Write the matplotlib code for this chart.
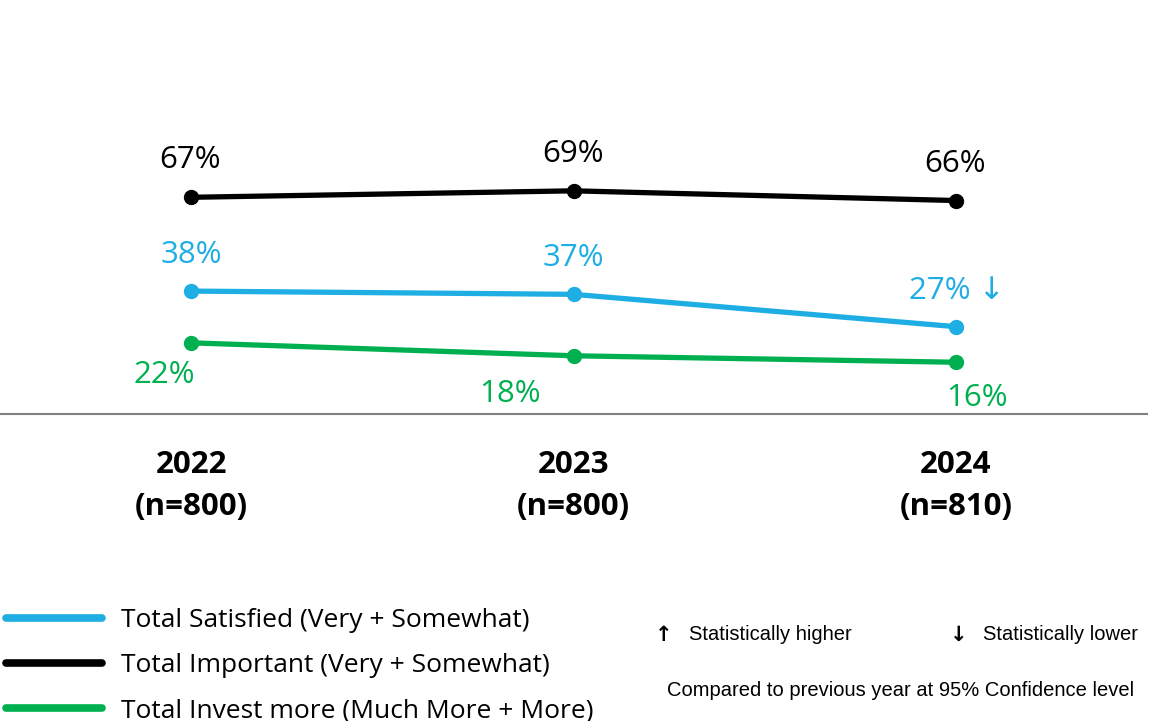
import matplotlib
matplotlib.use("Agg")
import matplotlib.pyplot as plt
from matplotlib.lines import Line2D

plt.rcParams["font.family"] = ["Open Sans", "DejaVu Sans"]

years = ["2022\n(n=800)", "2023\n(n=800)", "2024\n(n=810)"]
satisfied = [38, 37, 27]
important = [67, 69, 66]
invest = [22, 18, 16]
sat_flags = ["", "", " \u2193"]

BLUE = "#1eaee4"
BLACK = "#000000"
GREEN = "#00b050"

fig = plt.figure(figsize=(11.7, 7.21), dpi=100)
ax = fig.add_axes([0.0, 1 - 414 / 721, 1147 / 1170, 414 / 721])
x = range(len(years))

for vals, col in [(important, BLACK), (satisfied, BLUE), (invest, GREEN)]:
    ax.plot(x, vals, color=col, lw=3.8, marker="o", ms=10, solid_capstyle="round")

ax.set_xlim(-0.5, 2.5)
ax.set_ylim(0, 128)
for s in ["top", "left", "right"]:
    ax.spines[s].set_visible(False)
ax.spines["bottom"].set_color("#808080")
ax.spines["bottom"].set_linewidth(1.5)
ax.set_yticks([])
ax.set_xticks(list(x))
ax.set_xticklabels(years, fontsize=22.5, fontweight="bold", linespacing=1.5)
ax.tick_params(axis="x", length=0, pad=26)

# value labels
for i, v in enumerate(important):
    ax.annotate(f"{v}%", (i, v), xytext=(-1, 37), textcoords="offset pixels",
                ha="center", va="center", fontsize=22.5, color=BLACK)
sat_dx = [0, 0, 1]
for i, v in enumerate(satisfied):
    ax.annotate(f"{v}%{sat_flags[i]}", (i, v), xytext=(sat_dx[i], 36),
                textcoords="offset pixels", ha="center", va="center",
                fontsize=22.5, color=BLUE)
inv_dx = [-27, -64, 21]
inv_dy = [-32, -38, -36]
for i, v in enumerate(invest):
    ax.annotate(f"{v}%", (i, v), xytext=(inv_dx[i], inv_dy[i]), textcoords="offset pixels",
                ha="center", va="center", fontsize=22.5, color=GREEN)

# legend
handles = [Line2D([], [], color=c, lw=5.5, solid_capstyle="round")
           for c in (BLUE, BLACK, GREEN)]
labels = ["Total Satisfied (Very + Somewhat)",
          "Total Important (Very + Somewhat)",
          "Total Invest more (Much More + More)"]
fig.legend(handles, labels, loc="upper left", bbox_to_anchor=(6 / 1170, 1 - 608 / 721),
           frameon=False, fontsize=19, handlelength=3.65, handletextpad=0.72,
           labelspacing=0.76, borderpad=0, borderaxespad=0)

# significance key
note = dict(fontsize=14.5, family=["Liberation Sans", "DejaVu Sans"], va="center")
arrow = dict(fontsize=15, family="DejaVu Sans", fontweight="bold", va="center", ha="center")
fig.text(664 / 1170, 1 - 635 / 721, "\u2191", **arrow)
fig.text(689 / 1170, 1 - 635 / 721, "Statistically higher", **note)
fig.text(959 / 1170, 1 - 635 / 721, "\u2193", **arrow)
fig.text(983 / 1170, 1 - 635 / 721, "Statistically lower", **note)
fig.text(667 / 1170, 1 - 691 / 721, "Compared to previous year at 95% Confidence level", **note)

fig.savefig("out.png", dpi=100)
